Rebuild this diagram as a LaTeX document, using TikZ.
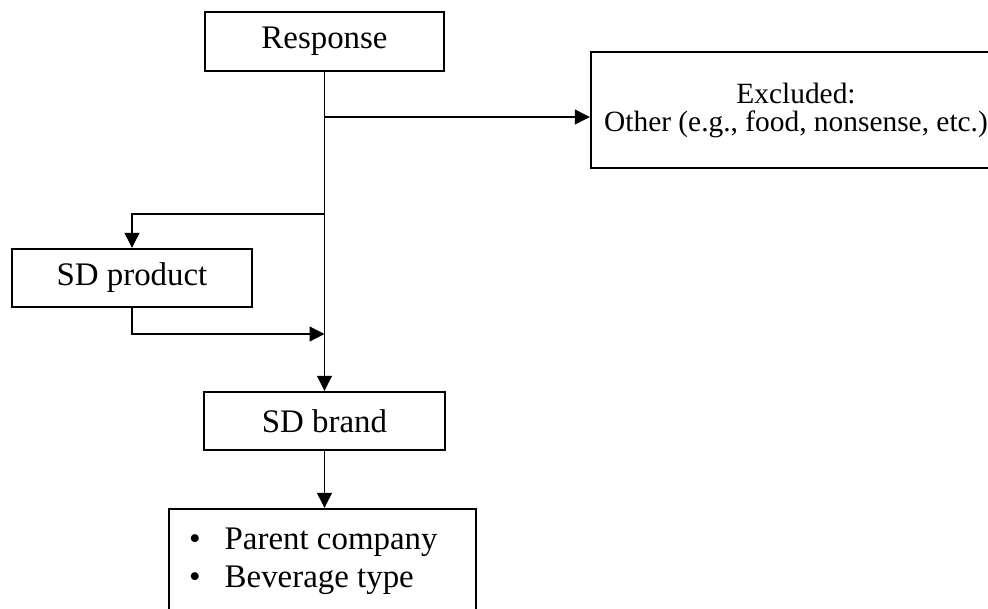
\documentclass[tikz,border=0pt]{standalone}
\usepackage{fontspec}
\setmainfont{Liberation Serif}
\usetikzlibrary{arrows.meta}
\begin{document}
\begin{tikzpicture}[x=1pt,y=-1pt,
  box/.style={draw, line width=2.4pt, inner sep=0pt, minimum height=58pt,
    font=\fontsize{32.9}{38}\selectfont},
  conn/.style={line width=1.2pt, -{Triangle[length=15pt,width=15pt]}},
  itemtxt/.style={anchor=base west, inner sep=0pt, font=\fontsize{32.9}{38}\selectfont}]
\useasboundingbox (0,0) rectangle (988,608);
% boxes
\node[box, minimum width=239pt, minimum height=59pt] (resp) at (324.5,41.5) {Response};
\node[box, minimum width=410pt, minimum height=116pt, align=center,
  font=\fontsize{29.4}{28}\selectfont] (excl) at (796,110)
  {Excluded:\\Other (e.g., food, nonsense, etc.)};
\node[box, minimum width=240pt] (prod) at (132,278) {SD product};
\node[box, minimum width=241pt] (brand) at (324.5,421) {SD brand};
\node[box, minimum width=307pt, minimum height=131pt] (feat) at (322.5,574.5) {};
\node[itemtxt] (f1) at (189,549) {•\hspace{24pt}Parent company};
\node[itemtxt] (f2) at (189,587) {•\hspace{24pt}Beverage type};
% junctions on the trunk
\coordinate (j1) at (324.5,117);
\coordinate (j2) at (324.5,214);
\coordinate (j3) at (324.5,334);
% connectors
\draw[conn] (resp.south) -- (brand.north);
\draw[conn] (j1) -- (j1 -| excl.west);
\draw[conn] (j2) -| (prod.north);
\draw[conn] (prod.south) |- (j3);
\draw[conn] (brand.south) -- (brand.south |- feat.north);
\end{tikzpicture}
\end{document}
